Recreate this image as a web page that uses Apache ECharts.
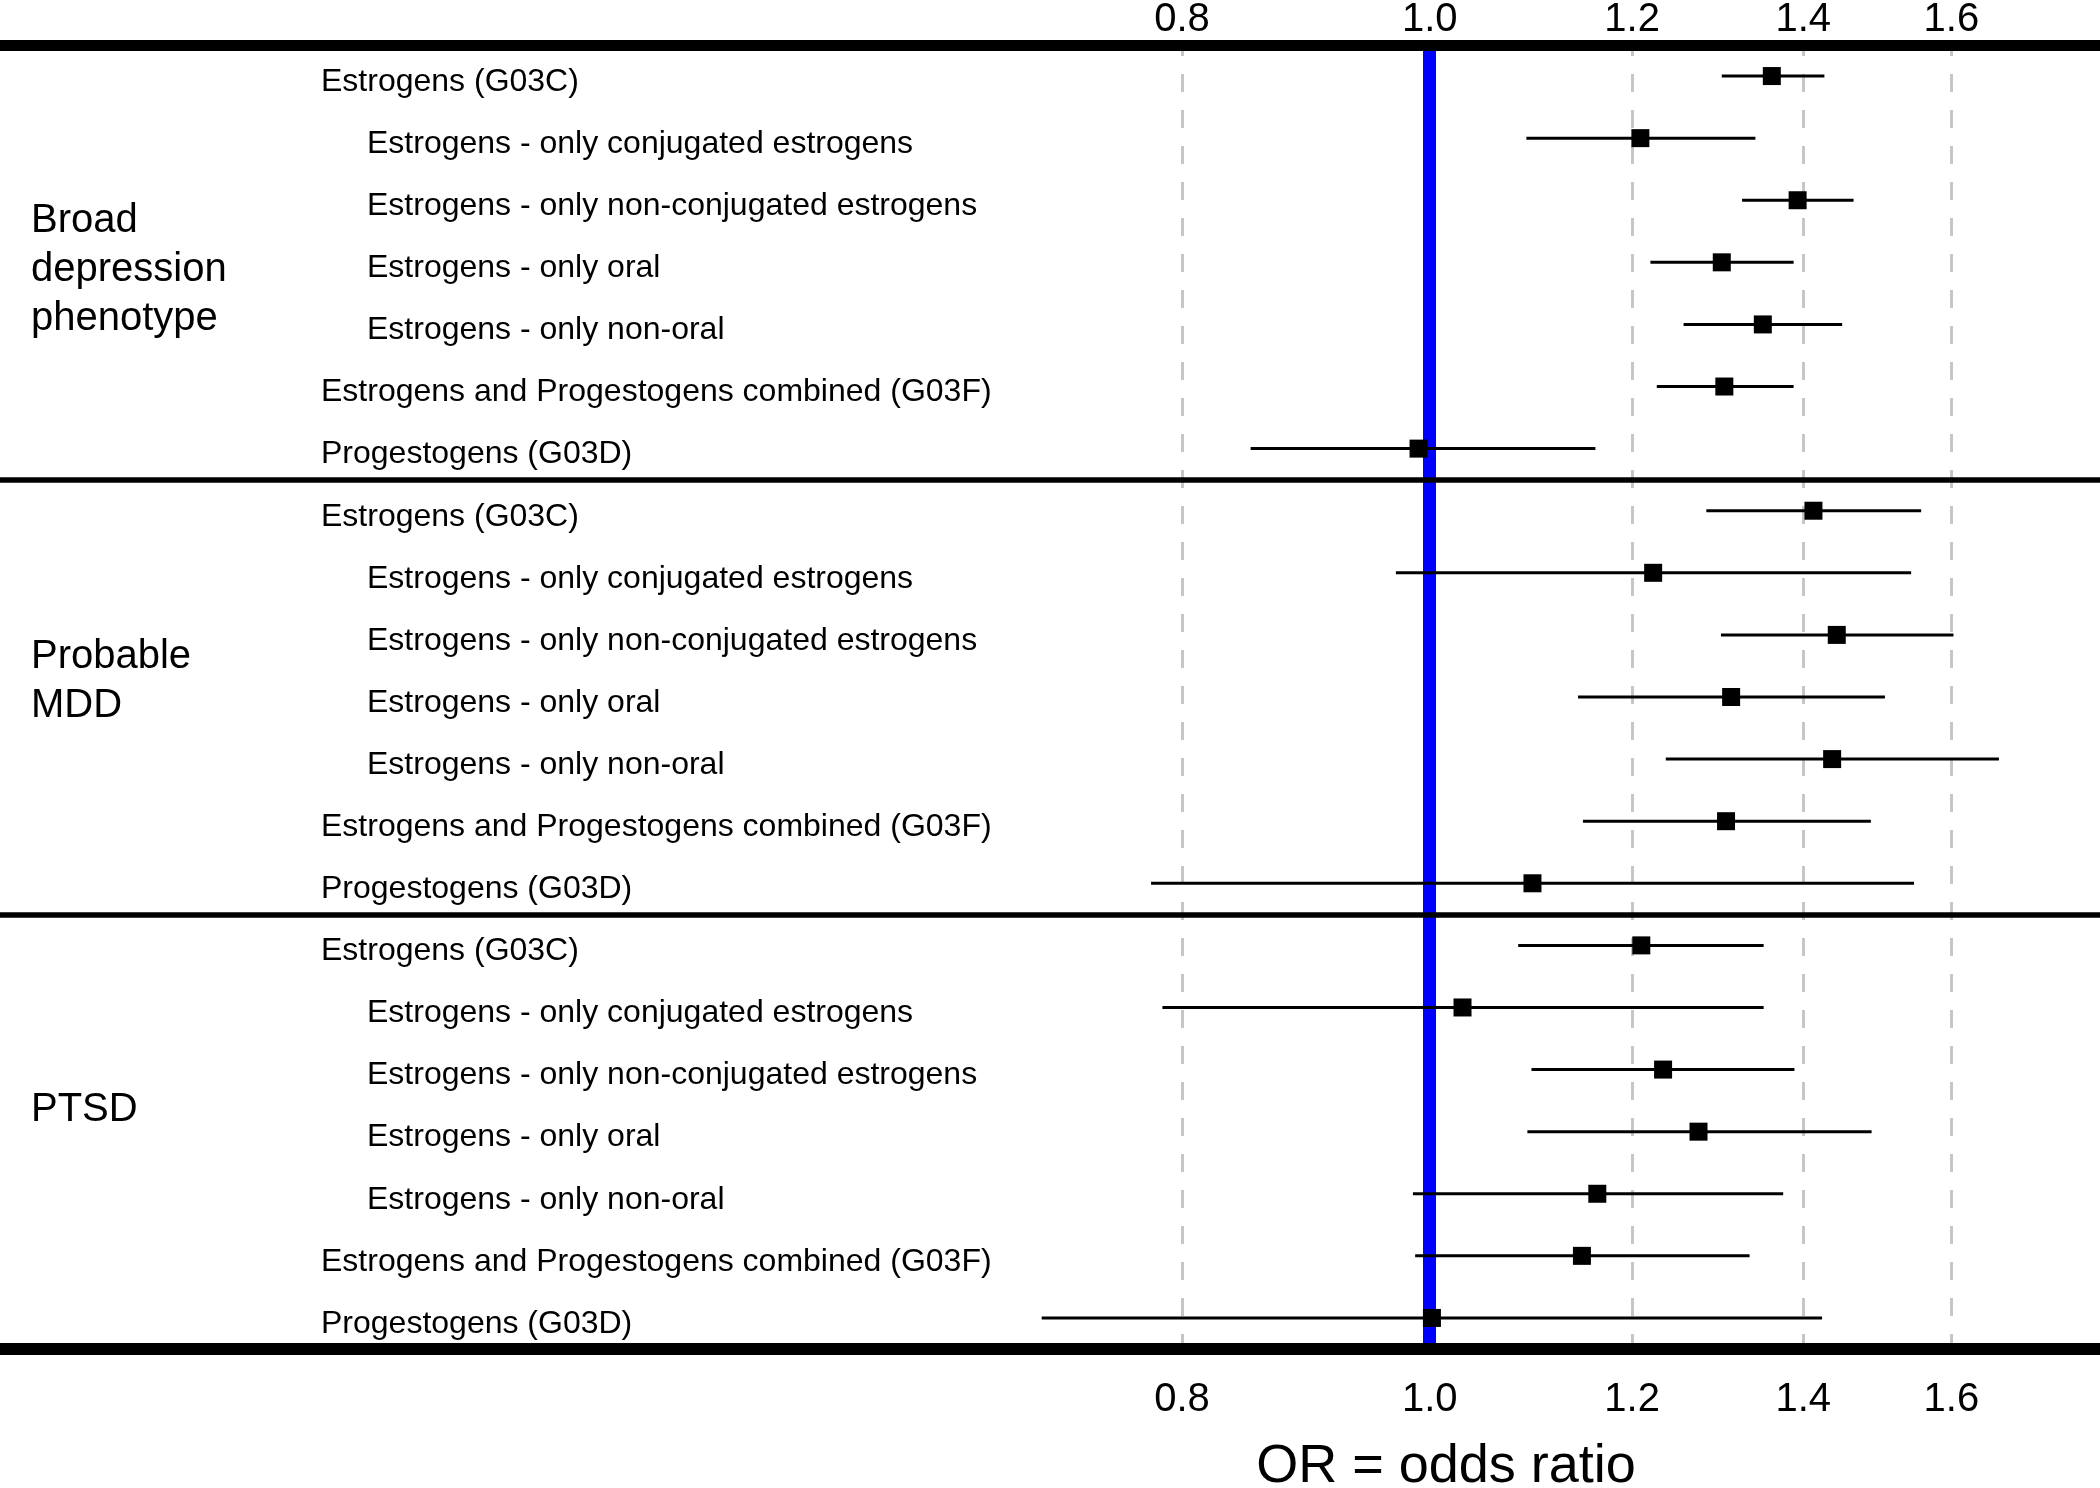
<!DOCTYPE html>
<html>
<head>
<meta charset="utf-8">
<script src="https://cdn.jsdelivr.net/npm/echarts@6/dist/echarts.min.js"></script>
<style>
  html, body { margin: 0; padding: 0; background: #fff; }
  #chart { width: 2100px; height: 1488px; }
</style>
</head>
<body>
<div id="chart"></div>
<script>
// ---------------- data ----------------
const groupNames = ['Broad\ndepression\nphenotype', 'Probable\nMDD', 'PTSD'];
const groupSizes = [7, 7, 7];

const itemLabels = [
  'Estrogens (G03C)',
  'Estrogens - only conjugated estrogens',
  'Estrogens - only non-conjugated estrogens',
  'Estrogens - only oral',
  'Estrogens - only non-oral',
  'Estrogens and Progestogens combined (G03F)',
  'Progestogens (G03D)'
];
const itemIndented = [false, true, true, true, true, false, false];

// odds ratios and 95% CI, rows top to bottom
const orEstimate = [
  1.361, 1.209, 1.393, 1.301, 1.350, 1.304, 0.990,
  1.413, 1.223, 1.443, 1.312, 1.437, 1.306, 1.097,
  1.210, 1.030, 1.234, 1.274, 1.163, 1.147, 1.002
];
const ciLower = [
  1.301, 1.091, 1.325, 1.220, 1.257, 1.227, 0.851,
  1.283, 0.970, 1.300, 1.143, 1.237, 1.148, 0.778,
  1.083, 0.786, 1.096, 1.092, 0.985, 0.987, 0.705
];
const ciUpper = [
  1.427, 1.341, 1.465, 1.388, 1.450, 1.388, 1.161,
  1.557, 1.543, 1.603, 1.507, 1.670, 1.488, 1.547,
  1.351, 1.351, 1.389, 1.489, 1.375, 1.334, 1.424
];
const tickValues = [0.8, 1.0, 1.2, 1.4, 1.6];
const axisTitle = 'OR = odds ratio';

// ---------------- build ----------------
const rowLabels = [];
const rowIndented = [];
groupSizes.forEach(n => {
  for (let i = 0; i < n; i++) { rowLabels.push(itemLabels[i]); rowIndented.push(itemIndented[i]); }
});
const nRows = rowLabels.length;
const rowIdx = rowLabels.map((_, i) => i + 1);

// group boundaries (in row units)
const boundaries = [0.5];
let acc = 0.5;
groupSizes.forEach(n => { acc += n; boundaries.push(acc); });

const FONT = 'Liberation Sans, Arial, Helvetica, sans-serif';
const X_MIN = Math.exp(-1429.7 / 1110);
const X_MAX = Math.exp((2100 - 1429.7) / 1110);

const GRID_TOP = 45, GRID_BOTTOM_Y = 1349;

const chart = echarts.init(document.getElementById('chart'), null, { renderer: 'canvas' });

const option = {
  animation: false,
  backgroundColor: '#ffffff',
  grid: { left: 0, right: 0, top: GRID_TOP, bottom: 1488 - GRID_BOTTOM_Y, containLabel: false },
  xAxis: [
    {
      type: 'log', position: 'bottom', min: X_MIN, max: X_MAX,
      axisLine: { show: false }, axisTick: { show: false }, splitLine: { show: false },
      axisLabel: {
        customValues: tickValues, margin: 31, color: '#000', fontSize: 40, fontFamily: FONT,
        formatter: v => Number(v).toFixed(1)
      }
    },
    {
      type: 'log', position: 'top', min: X_MIN, max: X_MAX,
      axisLine: { show: false }, axisTick: { show: false }, splitLine: { show: false },
      axisLabel: {
        customValues: tickValues, margin: 5, color: '#000', fontSize: 40, fontFamily: FONT,
        formatter: v => Number(v).toFixed(1)
      }
    }
  ],
  yAxis: [
    {
      type: 'category', inverse: true, data: rowLabels, position: 'left',
      axisLine: { show: false }, axisTick: { show: false }, splitLine: { show: false },
      axisLabel: {
        inside: true, interval: 0, margin: 321, color: '#000',
        fontSize: 32, fontFamily: FONT, padding: [12, 0, 0, 0],
        formatter: (val, idx) => (rowIndented[idx] ? '{b|' + val + '}' : '{a|' + val + '}'),
        rich: {
          a: { fontSize: 32, fontFamily: FONT, color: '#000' },
          b: { fontSize: 32, fontFamily: FONT, color: '#000', padding: [0, 0, 0, 46] }
        }
      }
    },
    {
      type: 'value', inverse: true, min: 0.5, max: nRows + 0.5, show: false,
      axisLine: { show: false }, axisTick: { show: false }, splitLine: { show: false },
      axisLabel: { show: false }
    }
  ],
  graphic: [
    ...(() => {
      const centers = [270, 681, 1110];
      return groupNames.map((g, i) => ({
        type: 'text', x: 31, y: centers[i], silent: true,
        style: {
          text: g, fill: '#000', fontSize: 40, fontFamily: FONT,
          lineHeight: 49, verticalAlign: 'middle', align: 'left'
        }
      }));
    })(),
    {
      type: 'text', x: 1446, y: 1467, silent: true,
      style: {
        text: axisTitle, fill: '#000', fontSize: 54, fontFamily: FONT,
        align: 'center', verticalAlign: 'middle'
      }
    }
  ],
  series: [
    {
      name: 'gridlines', type: 'line', xAxisIndex: 0, yAxisIndex: 1, data: [], z: 1,
      markLine: {
        silent: true, symbol: ['none', 'none'], z: 1, animation: false,
        label: { show: false },
        lineStyle: { color: '#c6c6c6', width: 3, type: [18, 18], dashOffset: 7, opacity: 1 },
        data: tickValues.map(v => ({ xAxis: v }))
      }
    },
    {
      name: 'reference', type: 'line', xAxisIndex: 0, yAxisIndex: 1, data: [], z: 2,
      markLine: {
        silent: true, symbol: ['none', 'none'], z: 2, animation: false,
        label: { show: false },
        lineStyle: { color: '#0000ff', width: 13, type: 'solid', opacity: 1 },
        data: [{ xAxis: 1 }]
      }
    },
    {
      name: 'ci', type: 'custom', xAxisIndex: 0, yAxisIndex: 1, z: 4,
      data: rowIdx.map((r, i) => [r, ciLower[i], ciUpper[i]]),
      encode: { x: [1, 2], y: 0 },
      renderItem: (params, api) => {
        const y = api.value(0);
        const p1 = api.coord([api.value(1), y]);
        const p2 = api.coord([api.value(2), y]);
        return {
          type: 'line',
          shape: { x1: p1[0], y1: p1[1], x2: p2[0], y2: p2[1] },
          style: { stroke: '#000', lineWidth: 3 }
        };
      }
    },
    {
      name: 'OR', type: 'scatter', xAxisIndex: 0, yAxisIndex: 1, z: 5,
      symbol: 'rect', symbolSize: [18, 18],
      itemStyle: { color: '#000', opacity: 1 },
      data: rowIdx.map((r, i) => [orEstimate[i], r])
    },
    {
      name: 'rules', type: 'line', xAxisIndex: 0, yAxisIndex: 1, data: [], z: 6,
      markLine: {
        silent: true, symbol: ['none', 'none'], z: 6, animation: false,
        label: { show: false },
        data: boundaries.map((b, i) => ({
          yAxis: b,
          lineStyle: {
            color: '#000', type: 'solid', opacity: 1,
            width: (i === 0 ? 11 : (i === boundaries.length - 1 ? 12 : 5.5))
          }
        }))
      }
    }
  ]
};

chart.setOption(option);
</script>
</body>
</html>
